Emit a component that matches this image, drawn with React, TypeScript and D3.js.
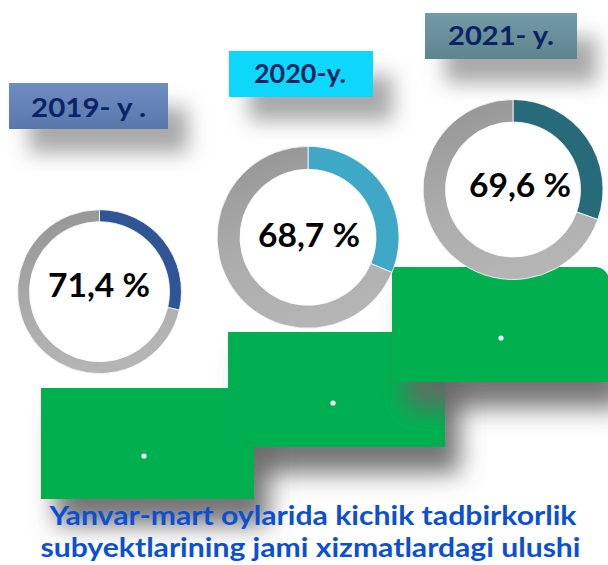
import React from "react";
import * as d3 from "d3";

// ---- data ----
const years = ["2019- y .", "2020-y.", "2021- y."];
const shares = [71.4, 68.7, 69.6];
const shareLabels = ["71,4 %", "68,7 %", "69,6 %"];
const titleLines = [
  "Yanvar-mart oylarida kichik tadbirkorlik",
  "subyektlarining jami xizmatlardagi ulushi",
];

// ---- layout / style ----
const W = 608;
const H = 565;
const FONT = "Lato, 'Open Sans', 'DejaVu Sans', sans-serif";
const accent = ["#2f5597", "#3fa8c6", "#276b7b"];
const donutLayout = [
  { cx: 99.5, cy: 291.7, r: 82, inner: 70, tx: 99, ty: 297, tw: 102 },
  { cx: 308, cy: 237.3, r: 91, inner: 68, tx: 309, ty: 247, tw: 102 },
  { cx: 513, cy: 189.5, r: 90, inner: 67.5, tx: 520, ty: 197, tw: 102 },
];
const labelLayout = [
  { x: 9, y: 83, w: 159, h: 46, tx: 88.5, ty: 117, tw: 115, fill: "url(#g2019)" },
  { x: 229, y: 51, w: 144, h: 46, tx: 300, ty: 83, tw: 92, fill: "#10d8fc" },
  { x: 425, y: 13, w: 152, h: 46, tx: 501, ty: 45, tw: 106, fill: "url(#g2021)" },
];
const steps = [
  { x: 41, y: 388, w: 213, h: 111, px: 144, py: 456 },
  { x: 228, y: 332, w: 217, h: 115, px: 333, py: 403 },
  { x: 392, y: 267, w: 217, h: 115, px: 501, py: 338 },
];
const titleLayout = [
  { x: 313, y: 525, w: 527 },
  { x: 310.5, y: 557, w: 540 },
];

function stepPath(s: { x: number; y: number; w: number; h: number }, round: boolean) {
  const r = round ? 14 : 0;
  const p = d3.path();
  p.moveTo(s.x, s.y);
  p.lineTo(s.x + s.w - r, s.y);
  if (r > 0) p.arcTo(s.x + s.w, s.y, s.x + s.w, s.y + r, r);
  p.lineTo(s.x + s.w, s.y + s.h);
  p.lineTo(s.x, s.y + s.h);
  p.closePath();
  return p.toString();
}

export default function App() {
  const pie = d3
    .pie<number>()
    .sort(null)
    .value((d) => d);

  const step = (i: number, withShadow: boolean) => (
    <path
      d={stepPath(steps[i], i === 2)}
      fill="#00b050"
      filter={withShadow ? "url(#stepShadow)" : undefined}
    />
  );

  return (
    <svg
      width={W}
      height={H}
      viewBox={`0 0 ${W} ${H}`}
      style={{ position: "absolute", left: 0, top: 0, display: "block" }}
    >
      <defs>
        <filter id="labelShadow" x="-40%" y="-60%" width="190%" height="300%">
          <feDropShadow dx="20" dy="24" stdDeviation="10" floodColor="#7a7a7a" floodOpacity="0.65" />
        </filter>
        <filter id="stepShadow" x="-40%" y="-40%" width="190%" height="210%">
          <feDropShadow dx="15" dy="26" stdDeviation="12" floodColor="#666666" floodOpacity="0.9" />
        </filter>
        <linearGradient id="g2019" x1="0" y1="0" x2="0" y2="1">
          <stop offset="0%" stopColor="#6f8dc2" />
          <stop offset="100%" stopColor="#5877aa" />
        </linearGradient>
        <linearGradient id="g2021" x1="0" y1="0" x2="0" y2="1">
          <stop offset="0%" stopColor="#739ba5" />
          <stop offset="100%" stopColor="#5e848e" />
        </linearGradient>
        {donutLayout.map((d, i) => (
          <linearGradient
            key={i}
            id={`gray${i}`}
            gradientUnits="userSpaceOnUse"
            x1={-d.r * 0.3}
            y1={-d.r}
            x2={d.r * 0.3}
            y2={d.r}
          >
            <stop offset="0%" stopColor="#979797" />
            <stop offset="50%" stopColor="#acacac" />
            <stop offset="100%" stopColor="#b6b6b6" />
          </linearGradient>
        ))}
      </defs>

      <rect x={0} y={0} width={W} height={H} fill="#ffffff" />

      {/* label boxes */}
      {labelLayout.map((l, i) => (
        <g key={`lb${i}`}>
          <rect x={l.x} y={l.y} width={l.w} height={l.h} fill={l.fill} filter="url(#labelShadow)" />
          <text
            x={l.tx}
            y={l.ty}
            textAnchor="middle"
            fontFamily={FONT}
            fontWeight={700}
            fontSize={27}
            fill="#0a2463"
            textLength={l.tw}
            lengthAdjust="spacingAndGlyphs"
          >
            {years[i]}
          </text>
        </g>
      ))}

      {/* steps with shadows */}
      {step(1, true)}
      {step(0, true)}
      {step(1, false)}
      {step(2, true)}
      {steps.map((s, i) => (
        <circle key={`dot${i}`} cx={s.px} cy={s.py} r={2.6} fill="#ffffff" />
      ))}

      {/* donuts */}
      {donutLayout.map((d, i) => {
        const arcs = pie([100 - shares[i], shares[i]]);
        const arc = d3.arc<d3.PieArcDatum<number>>().innerRadius(d.inner).outerRadius(d.r);
        return (
          <g key={`d${i}`} transform={`translate(${d.cx},${d.cy})`}>
            <circle r={d.inner} fill="#ffffff" />
            {arcs.map((a, j) => (
              <path
                key={j}
                d={arc(a) || ""}
                fill={j === 0 ? accent[i] : `url(#gray${i})`}
                stroke="#ffffff"
                strokeWidth={0.8}
              />
            ))}
          </g>
        );
      })}

      {/* percent labels */}
      {donutLayout.map((d, i) => (
        <text
          key={`pt${i}`}
          x={d.tx}
          y={d.ty}
          textAnchor="middle"
          fontFamily={FONT}
          fontWeight={700}
          fontSize={32}
          fill="#000000"
          textLength={d.tw}
          lengthAdjust="spacingAndGlyphs"
        >
          {shareLabels[i]}
        </text>
      ))}

      {/* title */}
      {titleLines.map((t, i) => (
        <text
          key={`t${i}`}
          x={titleLayout[i].x}
          y={titleLayout[i].y}
          textAnchor="middle"
          fontFamily={FONT}
          fontWeight={700}
          fontSize={26}
          fill="#0b4fd5"
          textLength={titleLayout[i].w}
          lengthAdjust="spacingAndGlyphs"
        >
          {t}
        </text>
      ))}
    </svg>
  );
}
